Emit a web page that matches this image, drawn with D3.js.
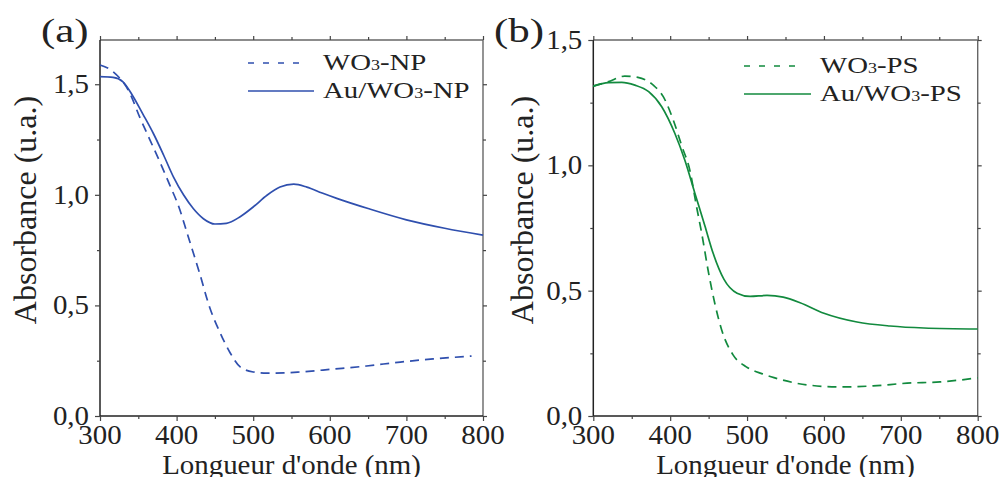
<!DOCTYPE html>
<html>
<head>
<meta charset="utf-8">
<script src="https://cdn.jsdelivr.net/npm/d3@7"></script>
<style>
html,body{margin:0;padding:0;background:#fff;}
svg{display:block;}
text{font-family:"Liberation Serif","Times New Roman",serif;fill:#222;}
</style>
</head>
<body>
<svg id="chart" width="1001" height="477"></svg>
<script>
// ---- Data ----
// Panel (a)
const wlA_np  = [300,317,339,352,365,378,391,404,413,430,443,457,470,483,500,518,540,561,604,648,692,735,785];
const absA_np = [1.587,1.557,1.459,1.35,1.25,1.15,1.045,0.935,0.835,0.646,0.493,0.375,0.285,0.222,0.199,0.194,0.195,0.199,0.212,0.226,0.244,0.258,0.271];
const wlA_au  = [300,317,330,343,356,370,383,396,409,422,435,450,465,483,500,518,535,553,570,590,610,650,700,750,800];
const absA_au = [1.534,1.531,1.511,1.446,1.365,1.275,1.18,1.08,1.0,0.937,0.892,0.868,0.871,0.901,0.945,0.998,1.035,1.048,1.035,1.008,0.983,0.938,0.887,0.849,0.818];
// Panel (b)
const wlB_ps  = [300,320,341,358,378,391,404,415,426,434,441,450,458,467,482,499,520,535,578,621,664,708,751,800];
const absB_ps = [1.316,1.334,1.356,1.351,1.320,1.274,1.181,1.078,0.975,0.84,0.729,0.57,0.45,0.343,0.243,0.196,0.168,0.153,0.124,0.116,0.12,0.131,0.136,0.152];
const wlB_au  = [300,320,337,354,372,389,406,419,432,445,456,470,487,504,526,547,569,600,643,686,730,800];
const absB_au = [1.316,1.330,1.331,1.320,1.294,1.234,1.128,1.021,0.89,0.76,0.648,0.545,0.49,0.477,0.481,0.474,0.452,0.41,0.375,0.359,0.351,0.347];

const xTicks = [300,400,500,600,700,800];
const xMinor = [350,450,550,650,750];
const yTicksA = [0,0.5,1.0,1.5];
const yMinorA = [0.25,0.75,1.25];
const yTicksB = [0,0.5,1.0,1.5];
const yMinorB = [0.25,0.75,1.25];

const legendA = [{name:["WO","3","-NP"], dash:true},{name:["Au/WO","3","-NP"], dash:false}];
const legendB = [{name:["WO","3","-PS"], dash:true},{name:["Au/WO","3","-PS"], dash:false}];

const blue = "#2f4fae";
const green = "#128a3e";

const svg = d3.select("#chart");
const fmt = v => d3.format(".1f")(v).replace(".", ",");

function panel(opts){
  const x = d3.scaleLinear().domain([300,800]).range([opts.x0, opts.x1]);
  const y = d3.scaleLinear().domain([0, opts.ymax]).range([416, 40]);
  const g = svg.append("g");

  // frame: top & right lighter
  g.append("line").attr("x1",x.range()[0]).attr("x2",x.range()[1]).attr("y1",40).attr("y2",40)
    .attr("stroke","#666").attr("stroke-width",1.4);
  g.append("line").attr("x1",x.range()[1]).attr("x2",x.range()[1]).attr("y1",40).attr("y2",416)
    .attr("stroke","#666").attr("stroke-width",1.4);

  // bottom axis
  const bottom = g.append("g").attr("transform","translate(0,416)")
    .call(d3.axisBottom(x).tickValues(xTicks).tickSize(5).tickFormat(""));
  g.append("g").attr("transform","translate(0,416)")
    .call(d3.axisBottom(x).tickValues(xMinor).tickSize(3).tickFormat(""))
    .select(".domain").remove();
  // top axis
  g.append("g").attr("transform","translate(0,40)")
    .call(d3.axisTop(x).tickValues(xTicks).tickSize(4).tickFormat(""))
    .select(".domain").remove();
  g.append("g").attr("transform","translate(0,40)")
    .call(d3.axisTop(x).tickValues(xMinor).tickSize(3).tickFormat(""))
    .select(".domain").remove();
  // left axis
  const left = g.append("g").attr("transform",`translate(${opts.x0},0)`)
    .call(d3.axisLeft(y).tickValues(opts.yTicks).tickSize(5).tickFormat(""));
  g.append("g").attr("transform",`translate(${opts.x0},0)`)
    .call(d3.axisLeft(y).tickValues(opts.yMinor).tickSize(3).tickFormat(""))
    .select(".domain").remove();
  // right axis
  g.append("g").attr("transform",`translate(${opts.x1},0)`)
    .call(d3.axisRight(y).tickValues(opts.yTicks).tickSize(4).tickFormat(""))
    .select(".domain").remove();
  g.append("g").attr("transform",`translate(${opts.x1},0)`)
    .call(d3.axisRight(y).tickValues(opts.yMinor).tickSize(3).tickFormat(""))
    .select(".domain").remove();

  g.selectAll(".domain").attr("stroke","#222").attr("stroke-width",1.5);
  g.selectAll(".tick line").attr("stroke","#444").attr("stroke-width",1.2);
  bottom.select(".domain").attr("d", `M${opts.x0},0H${opts.x1}`);
  left.select(".domain").attr("d", `M0,416V40`);

  // tick labels
  xTicks.forEach(t => {
    g.append("text").attr("transform",`translate(${x(t)},444) scale(1.07,1)`)
      .attr("text-anchor","middle").attr("font-size",27).text(t);
  });
  opts.yTicks.forEach(t => {
    g.append("text").attr("transform",`translate(${opts.x0-11},${y(t)+9}) scale(1.07,1)`)
      .attr("text-anchor","end").attr("font-size",27).text(fmt(t));
  });

  // axis titles
  g.append("text").attr("transform",`translate(${(opts.x0+opts.x1)/2},474) scale(1.07,1)`)
    .attr("text-anchor","middle").attr("font-size",27).text("Longueur d'onde (nm)");
  g.append("text").attr("transform",`translate(${opts.ytx},210) rotate(-90)`)
    .attr("text-anchor","middle").attr("font-size",32).text("Absorbance (u.a.)");

  // panel label
  g.append("text").attr("transform",`translate(${opts.lx},42) scale(1.3,1)`)
    .attr("font-size",33).text(opts.label);

  // curves
  const line = d3.line().x(d=>x(d[0])).y(d=>y(d[1])).curve(d3.curveMonotoneX);
  opts.series.forEach(s => {
    g.append("path").datum(d3.zip(s.wl, s.abs))
      .attr("d", line).attr("fill","none").attr("stroke",opts.color)
      .attr("stroke-width",1.7)
      .attr("stroke-dasharray", s.dash ? "9,6" : null);
  });

  // legend
  opts.legend.forEach((L,i) => {
    const ly = opts.legY[i];
    g.append("line").attr("x1",opts.legX).attr("x2",opts.legX + opts.legLen[i])
      .attr("y1",ly).attr("y2",ly).attr("stroke",opts.color).attr("stroke-width",1.7)
      .attr("stroke-dasharray", L.dash ? "6,9" : null);
    const t = g.append("text").attr("transform",`translate(${opts.legTX},${ly+7}) scale(1.2,1)`)
      .attr("font-size",24);
    t.append("tspan").text(L.name[0]);
    t.append("tspan").attr("font-size",15).text(L.name[1]);
    t.append("tspan").text(L.name[2]);
  });
}

panel({x0:100, x1:483, ymax:1.7, yTicks:yTicksA, yMinor:yMinorA, ytx:36, lx:41, label:"(a)",
  color:blue, legend:legendA, legX:248, legLen:[52,66], legY:[63,91], legTX:323,
  series:[{wl:wlA_np, abs:absA_np, dash:true},{wl:wlA_au, abs:absA_au, dash:false}]});
panel({x0:593.3, x1:977.7, ymax:1.5, yTicks:yTicksB, yMinor:yMinorB, ytx:533, lx:494, label:"(b)",
  color:green, legend:legendB, legX:744, legLen:[52,67], legY:[66,94], legTX:820,
  series:[{wl:wlB_ps, abs:absB_ps, dash:true},{wl:wlB_au, abs:absB_au, dash:false}]});
</script>
</body>
</html>
